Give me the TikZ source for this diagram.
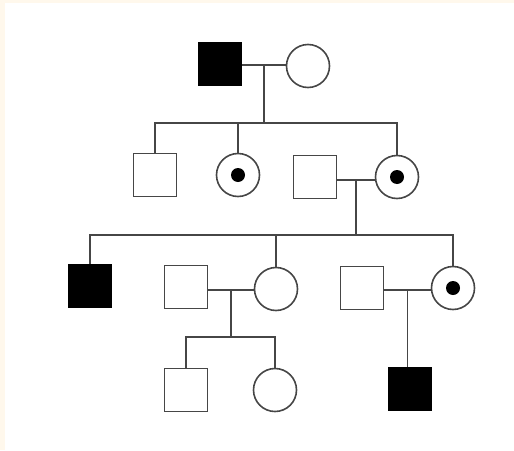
\documentclass[tikz,border=0pt]{standalone}
\usetikzlibrary{calc}
\definecolor{cream}{RGB}{255,248,236}
\definecolor{linegray}{RGB}{70,70,70}
\begin{document}
\begin{tikzpicture}
		[x=1pt,y=-1pt,line width=1.6pt,
		male/.style={draw=linegray,rectangle,minimum size=43pt,inner sep=0pt},
		female/.style={draw=linegray,circle,minimum size=43pt,inner sep=0pt},
		affected/.style={fill=black,draw=black},
		carrier/.style={path picture={\fill[black]
				(path picture bounding box.center) circle (7pt);}},
		link/.style={draw=linegray}]
		\fill[cream] (0,0) rectangle (514,450);
		\fill[white] (5,3) rectangle (514,450);
		\useasboundingbox (0,0) rectangle (514,450);
		% generation I
		\node[male,affected] (gfa) at (220,64) {};
		\node[female] (gmo) at (308,66) {};
		% generation II
		\node[male] (s1) at (155,175) {};
		\node[female,carrier] (d1) at (238,175) {};
		\node[male] (h1) at (315,177) {};
		\node[female,carrier] (d2) at (397,177) {};
		% generation III
		\node[male,affected] (c1) at (90,286) {};
		\node[male] (h2) at (186,287) {};
		\node[female] (c2) at (276,289) {};
		\node[male] (h3) at (362,288) {};
		\node[female,carrier] (c3) at (453,288) {};
		% generation IV
		\node[male] (g1) at (186,390) {};
		\node[female] (g2) at (275,390) {};
		\node[male,affected] (g3) at (410,389) {};
		% marriages
		\draw[link] (gfa.east |- 0,65) coordinate (ma) -- (gmo.west |- 0,65) coordinate (mb);
		\draw[link] (h1.east |- 0,180) coordinate (mc) -- (d2.west |- 0,180) coordinate (md);
		\draw[link] (h2.east |- 0,290) coordinate (me) -- (c2.west |- 0,290) coordinate (mf);
		\draw[link] (h3.east |- 0,290) coordinate (mg) -- (c3.west |- 0,290) coordinate (mh);
		\coordinate (p1) at ($(ma)!0.5!(mb)$);
		\coordinate (p2) at ($(mc)!0.5!(md)$);
		\coordinate (p3) at ($(me)!0.5!(mf)$);
		\coordinate (p4) at ($(mg)!0.5!(mh)$);
		% sibships
		\draw[link] (p1) -- (p1 |- 0,123);
		\draw[link] (s1.north) |- (0,123 -| d2.north) -- (d2.north);
		\draw[link] (d1.north) -- (d1.north |- 0,123);
		\draw[link] (p2) -- (p2 |- 0,235);
		\draw[link] (c1.north) |- (0,235 -| c3.north) -- (c3.north);
		\draw[link] (c2.north) -- (c2.north |- 0,235);
		\draw[link] (p3) -- (p3 |- 0,337);
		\draw[link] (g1.north) |- (0,337 -| g2.north) -- (g2.north);
		\draw[link] (p4) -- (g3.north -| p4);
	\end{tikzpicture}
\end{document}
